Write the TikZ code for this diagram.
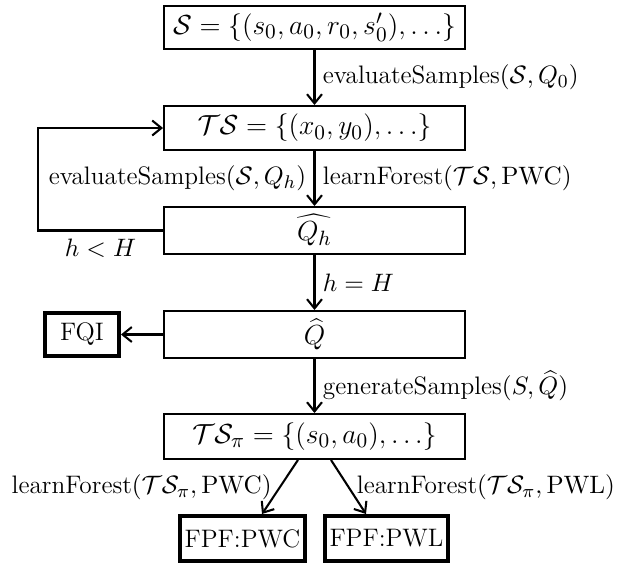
\documentclass[tikz,border=0pt]{standalone}
\usetikzlibrary{calc,arrows.meta}
\begin{document}
\begin{tikzpicture}[x=0.4348pt,y=-0.4348pt,
  font=\fontsize{11}{13.6}\selectfont,
  box/.style={draw, line width=0.9pt, inner sep=0pt, minimum width=130.8pt, font=\fontsize{12.5}{15}\selectfont},
  endbox/.style={draw, line width=1.7pt, inner sep=0pt},
  arr/.style={-{Straight Barb[length=4pt,width=6.5pt,line width=0.9pt]}, line width=0.9pt},
  lab/.style={inner sep=3.2pt}]
\useasboundingbox (0,0) rectangle (633,563);
\node[box, minimum height=18.7pt] (b1) at (314.5,27.5) {$\mathcal{S}=\{(s_0,a_0,r_0,s_0'),\dots\}$};
\node[box, minimum height=19.1pt] (b2) at (314.5,128) {$\mathcal{T}\mathcal{S}=\{(x_0,y_0),\dots\}$};
\node[box, minimum height=20.4pt] (b3) at (314.5,230.5) {$\widehat{Q_h}$};
\node[box, minimum height=20.4pt] (b4) at (314.5,334.5) {$\widehat{Q}$};
\node[box, minimum height=19.5pt] (b5) at (314.5,436.5) {$\mathcal{T}\mathcal{S}_\pi=\{(s_0,a_0),\dots\}$};
\node[endbox, minimum width=32.2pt, minimum height=18.7pt] (fqi) at (82,334.5) {FQI};
\node[endbox, minimum width=54.4pt, minimum height=19.6pt] (pwc) at (242.5,538.5) {FPF:PWC};
\node[endbox, minimum width=53.5pt, minimum height=19.6pt] (pwl) at (386.5,538.5) {FPF:PWL};
\draw[arr] (b1) -- (b2) node[lab, midway, right] {evaluateSamples$(\mathcal{S},Q_0)$};
\draw[arr] (b2) -- (b3)
  node[lab, midway, right] {learnForest$(\mathcal{T}\mathcal{S},\mathrm{PWC})$}
  node[lab, midway, left] {evaluateSamples$(\mathcal{S},Q_h)$};
\draw[arr] (b3.west) -- (38,230.5) node[lab, midway, below] {$h<H$} |- (b2.west);
\draw[arr] (b3) -- (b4) node[lab, midway, right] {$h=H$};
\draw[arr] (b4) -- (fqi);
\draw[arr] (b4) -- (b5) node[lab, midway, right] {generateSamples$(S,\widehat{Q})$};
\draw[arr] ($(b5.south)+(-16.5,0)$) -- ($(pwc.north)+(19.5,0)$)
  node[lab, midway, left] {learnForest$(\mathcal{T}\mathcal{S}_\pi,\mathrm{PWC})$};
\draw[arr] ($(b5.south)+(16.5,0)$) -- ($(pwl.north)+(-20.5,0)$)
  node[lab, midway, right] {learnForest$(\mathcal{T}\mathcal{S}_\pi,\mathrm{PWL})$};
\end{tikzpicture}
\end{document}
